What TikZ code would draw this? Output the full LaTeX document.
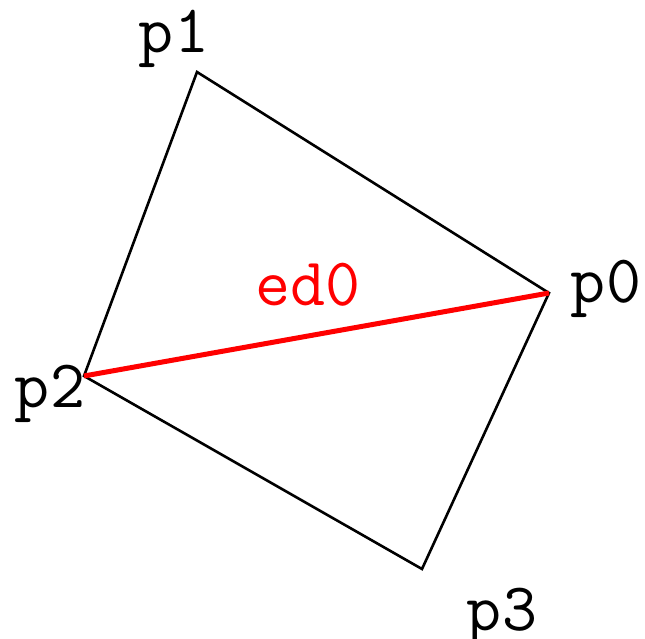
\documentclass[tikz,border=0pt]{standalone}
\usepackage{fontspec}
\begin{document}
\begin{tikzpicture}[x=1pt,y=-1pt,
  lbl/.style={font=\fontsize{68}{68}\selectfont\ttfamily,inner sep=0pt,anchor=base},
  edge/.style={line width=2.6pt,black},
  rededge/.style={line width=5pt,red}]
\useasboundingbox (0,0) rectangle (645,639);
\coordinate (v0) at (549,293);
\coordinate (v1) at (197,72);
\coordinate (v2) at (84,376);
\coordinate (v3) at (422,569);
\draw[edge,line join=miter] (v0) -- (v1) -- (v2) -- (v3) -- cycle;
\draw[rededge] (v2) -- (v0);
\node[lbl] (l1) at (174,53) {p1};
\node[lbl] (l0) at (606,302) {p0};
\node[lbl] (l2) at (50,407) {p2};
\node[lbl] (l3) at (502,630) {p3};
\node[lbl,text=red] (le) at (308,305) {ed0};
\end{tikzpicture}
\end{document}
